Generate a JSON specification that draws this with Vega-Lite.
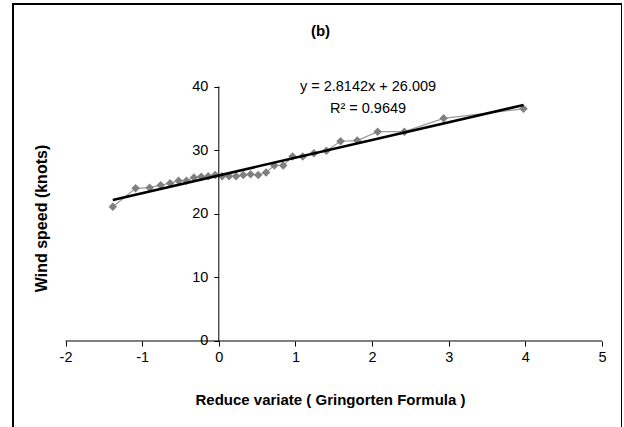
{
  "$schema": "https://vega.github.io/schema/vega-lite/v6.json",
  "width": 609,
  "height": 426,
  "autosize": {"type": "none"},
  "padding": {"left": 13, "top": 4, "right": 0, "bottom": 0},
  "background": "white",
  "title": {"text": "(b)", "font": "Liberation Sans", "fontSize": 15, "fontWeight": "bold", "color": "black", "anchor": "middle", "baseline": "middle", "offset": -42, "dx": 3},
  "config": {
    "view": {"stroke": "black", "strokeWidth": 2},
    "font": "Liberation Sans",
    "axis": {"domain": false, "grid": false, "tickColor": "black", "tickSize": 5, "tickWidth": 1, "labelColor": "black", "labelFont": "Liberation Sans", "labelFontSize": 14.5, "labelOverlap": false, "labelFlush": false, "labelExpr": "'' + datum.value", "titleColor": "black", "titleFont": "Liberation Sans", "titleFontWeight": "bold"}
  },
  "data": {"values": [
    {"x": -1.3825, "speed": 21.1},
    {"x": -1.0854, "speed": 24.0},
    {"x": -0.9023, "speed": 24.1},
    {"x": -0.7587, "speed": 24.5},
    {"x": -0.6355, "speed": 24.8},
    {"x": -0.5245, "speed": 25.2},
    {"x": -0.4215, "speed": 25.2},
    {"x": -0.3237, "speed": 25.7},
    {"x": -0.2296, "speed": 25.8},
    {"x": -0.1377, "speed": 25.9},
    {"x": -0.0470, "speed": 26.1},
    {"x": 0.0433, "speed": 25.9},
    {"x": 0.1339, "speed": 25.9},
    {"x": 0.2255, "speed": 25.9},
    {"x": 0.3190, "speed": 26.1},
    {"x": 0.4149, "speed": 26.2},
    {"x": 0.5139, "speed": 26.1},
    {"x": 0.6169, "speed": 26.5},
    {"x": 0.7250, "speed": 27.6},
    {"x": 0.8400, "speed": 27.6},
    {"x": 0.9628, "speed": 29.0},
    {"x": 1.0958, "speed": 29.0},
    {"x": 1.2413, "speed": 29.5},
    {"x": 1.4040, "speed": 29.9},
    {"x": 1.5891, "speed": 31.4},
    {"x": 1.8068, "speed": 31.5},
    {"x": 2.0729, "speed": 32.9},
    {"x": 2.4212, "speed": 32.9},
    {"x": 2.9341, "speed": 35.0},
    {"x": 3.9757, "speed": 36.5}
  ]},
  "layer": [
    {
      "mark": {"type": "line", "color": "#999999", "strokeWidth": 1.2, "point": {"shape": "diamond", "size": 72, "color": "#808080", "filled": true, "opacity": 1}},
      "encoding": {
        "x": {"field": "x", "type": "quantitative",
          "scale": {"domain": [-2.685, 5.261], "nice": false, "zero": false},
          "axis": {"values": [-2, -1, 0, 1, 2, 3, 4, 5], "offset": -89, "labelPadding": 4, "title": "Reduce variate ( Gringorten Formula )", "titleFontSize": 15, "titleX": 317, "titleY": 58, "titleBaseline": "middle", "titleAlign": "center", "titleAnchor": null}},
        "y": {"field": "speed", "type": "quantitative",
          "scale": {"domain": [-13.99, 52.97], "nice": false, "zero": false},
          "axis": {"values": [0, 10, 20, 30, 40], "offset": -205.8, "labelPadding": 6, "title": "Wind speed (knots)", "titleFontSize": 16, "titleX": -177.8, "titleY": 214, "titleBaseline": "middle", "titleAlign": "center", "titleAngle": -90, "titleAnchor": null}}
      }
    },
    {
      "data": {"values": [{}]},
      "mark": {"type": "rule", "color": "black", "strokeWidth": 1},
      "encoding": {"x": {"datum": -2, "type": "quantitative"}, "x2": {"datum": 5}, "y": {"datum": 0, "type": "quantitative"}}
    },
    {
      "data": {"values": [{}]},
      "mark": {"type": "rule", "color": "black", "strokeWidth": 1},
      "encoding": {"x": {"datum": 0, "type": "quantitative"}, "y": {"datum": 0, "type": "quantitative"}, "y2": {"datum": 40}}
    },
    {
      "transform": [{"regression": "speed", "on": "x"}],
      "mark": {"type": "line", "color": "black", "strokeWidth": 2.6},
      "encoding": {"x": {"field": "x", "type": "quantitative"}, "y": {"field": "speed", "type": "quantitative"}}
    },
    {
      "data": {"values": [{"label": "y = 2.8142x + 26.009"}]},
      "mark": {"type": "text", "font": "Liberation Sans", "fontSize": 14.5, "color": "black", "align": "center", "baseline": "middle"},
      "encoding": {"x": {"datum": 1.947, "type": "quantitative"}, "y": {"datum": 39.92, "type": "quantitative"}, "text": {"field": "label"}}
    },
    {
      "data": {"values": [{"label": "R² = 0.9649"}]},
      "mark": {"type": "text", "font": "Liberation Sans", "fontSize": 14.5, "color": "black", "align": "center", "baseline": "middle"},
      "encoding": {"x": {"datum": 1.947, "type": "quantitative"}, "y": {"datum": 36.46, "type": "quantitative"}, "text": {"field": "label"}}
    }
  ]
}
